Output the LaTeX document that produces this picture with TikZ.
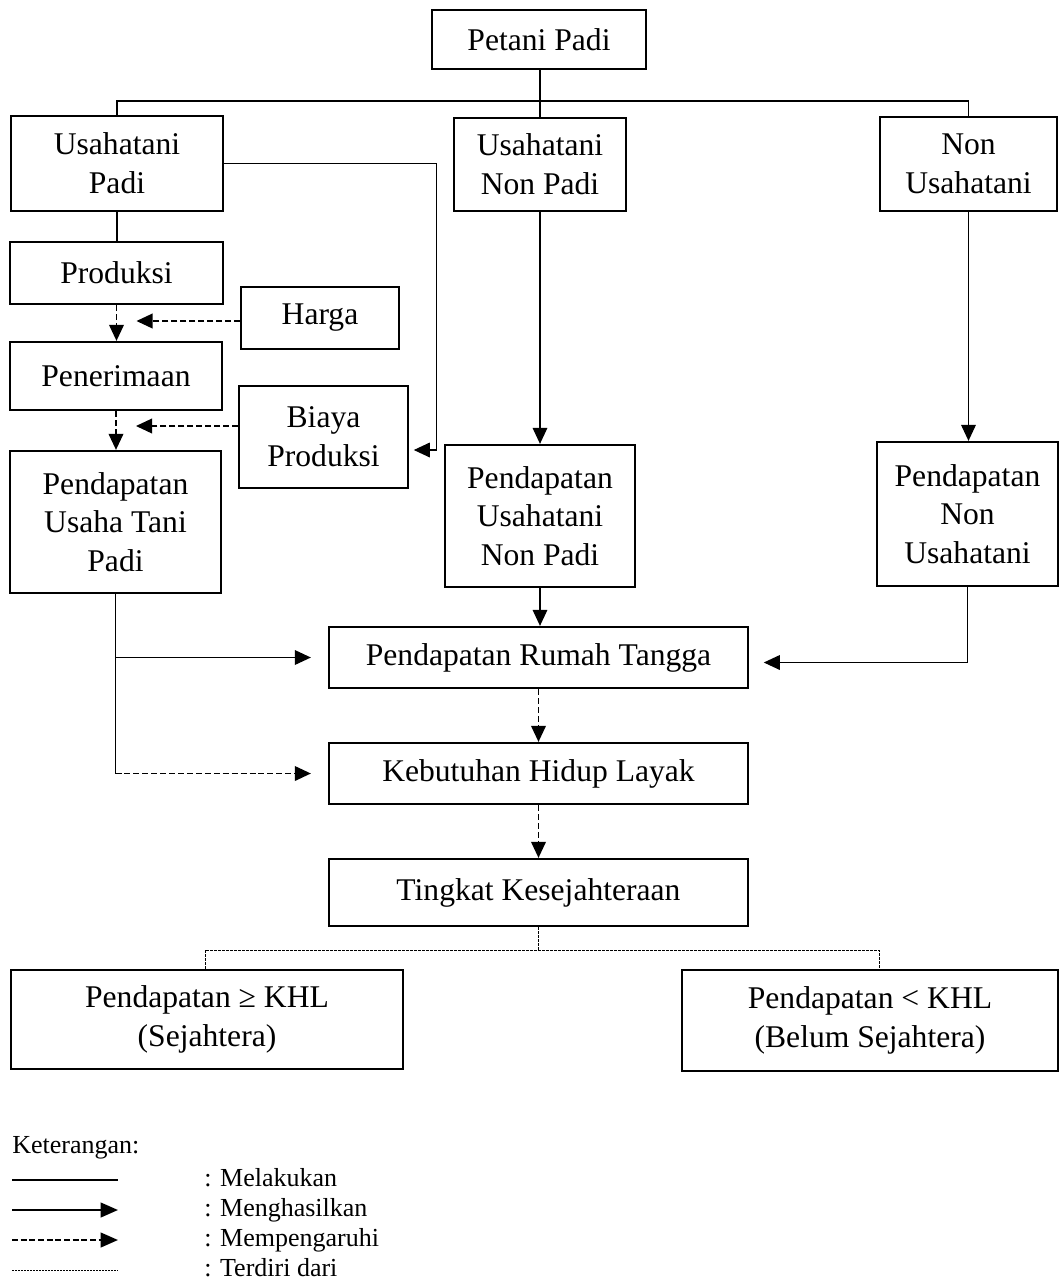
\documentclass[tikz,border=0pt]{standalone}
\usepackage{fontspec}
\setmainfont{Liberation Serif}
\usetikzlibrary{arrows.meta,calc}
\begin{document}
\begin{tikzpicture}[x=0.75pt,y=-0.75pt,
  box/.style={draw, line width=1.7pt, align=center, inner sep=0pt,
    font=\fontsize{23.7}{29}\selectfont},
  conn/.style={line width=0.9pt},
  arr/.style={conn, -{Triangle[length=12pt,width=11pt]}},
  dasharr/.style={line width=1.1pt, dash pattern=on 4.5pt off 2.2pt, -{Triangle[length=12pt,width=11pt]}},
  dotln/.style={line width=0.6pt, dash pattern=on 2pt off 1pt},
  legtxt/.style={font=\fontsize{19.5}{23}\selectfont, inner sep=0pt, anchor=base west},
  legln/.style={line width=1.6pt},
  legtip/.style={-{Triangle[length=13pt,width=11pt]}}
]
\useasboundingbox (0,0) rectangle (1060,1283);

% boxes
\node[box, minimum width=160.5pt, minimum height=44.25pt] (pp) at (539,39.5) {Petani Padi};
\node[box, minimum width=159pt, minimum height=71.25pt] (up) at (117,163.5) {Usahatani\\Padi};
\node[box, minimum width=129pt, minimum height=69.75pt] (unp) at (540,164.5) {Usahatani\\Non Padi};
\node[box, minimum width=132.75pt, minimum height=70.5pt] (nu) at (968.5,164) {Non\\Usahatani};
\node[box, minimum width=159.75pt, minimum height=46.5pt] (prod) at (116.5,273) {Produksi};
\node[box, minimum width=118.5pt, minimum height=46.5pt] (harga) at (320,318) {Harga};
\node[box, minimum width=159pt, minimum height=51pt] (pen) at (116,376) {Penerimaan};
\node[box, minimum width=126.75pt, minimum height=76.5pt] (biaya) at (323.5,437) {Biaya\\Produksi};
\node[box, minimum width=158.25pt, minimum height=106.5pt] (putp) at (115.5,522) {Pendapatan\\Usaha Tani\\Padi};
\node[box, minimum width=142.5pt, minimum height=106.5pt] (punp) at (540,516) {Pendapatan\\Usahatani\\Non Padi};
\node[box, minimum width=135.75pt, minimum height=108pt] (pnu) at (967.5,514) {Pendapatan\\Non\\Usahatani};
\node[box, minimum width=314.25pt, minimum height=45.75pt] (prt) at (538.5,657.5) {Pendapatan Rumah Tangga};
\node[box, minimum width=314.25pt, minimum height=45.75pt] (khl) at (538.5,773.5) {Kebutuhan Hidup Layak};
\node[box, minimum width=314.25pt, minimum height=50.25pt] (tk) at (538.5,892.5) {Tingkat Kesejahteraan};
\node[box, minimum width=294pt, minimum height=74.25pt] (ps) at (207,1019.5) {Pendapatan ≥ KHL\\(Sejahtera)};
\node[box, minimum width=282pt, minimum height=75.75pt] (pbs) at (870,1020.5) {Pendapatan < KHL\\(Belum Sejahtera)};

% top tree
\coordinate (bus) at (540,101);
\draw[conn] (pp.south -| unp.north) -- (unp.north);
\draw[conn] (up.north) |- (bus) -| (nu.north);

% left column
\draw[conn] (up.south) -- (up.south |- prod.north);
\draw[dasharr] (prod.south) -- (prod.south |- pen.north);
\draw[dasharr] (pen.south) -- (pen.south |- putp.north);
\draw[dasharr, shorten >=15pt] ([yshift=-2.25pt]harga.west) -- ([yshift=-2.25pt]harga.west -| prod.south);
\draw[dasharr, shorten >=15pt] ([yshift=8.25pt]biaya.west) -- ([yshift=8.25pt]biaya.west -| pen.south);
\draw[arr, shorten >=3.5pt] (up.east) -| ([xshift=20.25pt,yshift=-9.75pt]biaya.east) -- ([yshift=-9.75pt]biaya.east);

% middle and right columns
\draw[arr] (unp.south) -- (punp.north);
\draw[arr] (nu.south) -- (nu.south |- pnu.north);
\draw[arr] (punp.south) -- (punp.south |- prt.north);
\draw[arr, shorten >=11pt] (pnu.south) |- ([yshift=-3.75pt]prt.east);

% from Pendapatan Usaha Tani Padi
\draw[conn] (putp.south) -- (putp.south |- khl.west);
\draw[arr, shorten >=12.75pt] (putp.south |- prt.west) -- (prt.west);
\draw[dasharr, shorten >=12.75pt] (putp.south |- khl.west) -- (khl.west);

% lower chain
\draw[dasharr] (prt.south) -- (khl.north);
\draw[dasharr] (khl.south) -- (tk.north);

% bottom tree
\coordinate (tb) at (540,950);
\draw[dotln] (tk.south) -- (tk.south |- tb);
\draw[dotln] ([xshift=-1.5pt]ps.north) |- (tb) -| ([xshift=6.75pt]pbs.north);

% legend
\node[legtxt] (ket) at (12,1153) {Keterangan:};
\coordinate (l1a) at (12,1180); \coordinate (l1b) at (118,1180);
\coordinate (l2a) at (12,1210); \coordinate (l2b) at (118,1210);
\coordinate (l3a) at (12,1240); \coordinate (l3b) at (118,1240);
\coordinate (l4a) at (12,1270); \coordinate (l4b) at (118,1270);
\draw[legln] (l1a) -- (l1b);
\draw[legln, legtip] (l2a) -- (l2b);
\draw[legln, dash pattern=on 4.5pt off 2pt, legtip] (l3a) -- (l3b);
\draw[line width=0.7pt, dash pattern=on 1.5pt off 0.75pt] (l4a) -- (l4b);
\node[legtxt] (t1) at (204,1186) {: Melakukan};
\node[legtxt] (t2) at (204,1216) {: Menghasilkan};
\node[legtxt] (t3) at (204,1246) {: Mempengaruhi};
\node[legtxt] (t4) at (204,1276) {: Terdiri dari};
\end{tikzpicture}
\end{document}
